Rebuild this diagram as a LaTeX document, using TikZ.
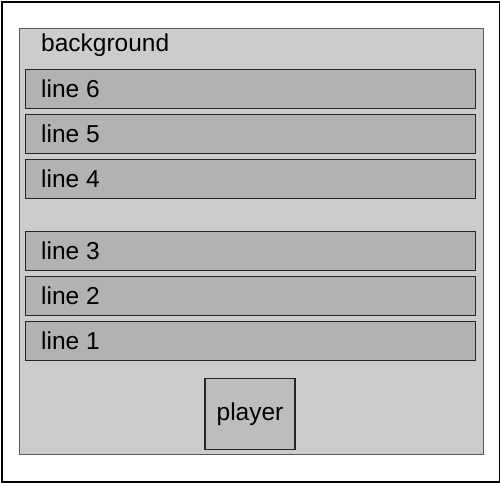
\documentclass[tikz,border=0pt]{standalone}
\usepackage{fontspec}
\setmainfont{Liberation Sans}
\begin{document}
\begin{tikzpicture}[x=1pt,y=-1pt,
  lanebox/.style={draw=black!85, line width=1.2pt, fill=black!30, minimum width=450pt, minimum height=39pt, inner sep=0pt},
  lbl/.style={font=\fontsize{24.5}{28}\selectfont, anchor=west, inner sep=0pt}]
\useasboundingbox (0,0) rectangle (500,482);
\node[draw=black, line width=2pt, fill=white, minimum width=498pt, minimum height=480pt, inner sep=0pt, anchor=north west] (frame) at (1,1) {};
\node[draw=black!65, line width=1pt, fill=black!20, minimum width=464pt, minimum height=426pt, inner sep=0pt, anchor=north west] (bg) at (18.5,27.5) {};
\node[lbl] (bgl) at (41,45) {background};
\node[lanebox, anchor=north west] (l6) at (25,69) {};
\node[lanebox, anchor=north west] (l5) at (25,114) {};
\node[lanebox, anchor=north west] (l4) at (25,159) {};
\node[lanebox, anchor=north west] (l3) at (25,231) {};
\node[lanebox, anchor=north west] (l2) at (25,276) {};
\node[lanebox, anchor=north west] (l1) at (25,321) {};
\node[lbl] (t6) at (41,89) {line 6};
\node[lbl] (t5) at (41,134) {line 5};
\node[lbl] (t4) at (41,179) {line 4};
\node[lbl] (t3) at (41,251) {line 3};
\node[lbl] (t2) at (41,296) {line 2};
\node[lbl] (t1) at (41,341) {line 1};
\node[draw=black!85, line width=1.2pt, fill=black!26, minimum width=90pt, minimum height=71pt, inner sep=0pt, font=\fontsize{24.5}{28}\selectfont] (pl) at (250,414) {player};
\end{tikzpicture}
\end{document}
